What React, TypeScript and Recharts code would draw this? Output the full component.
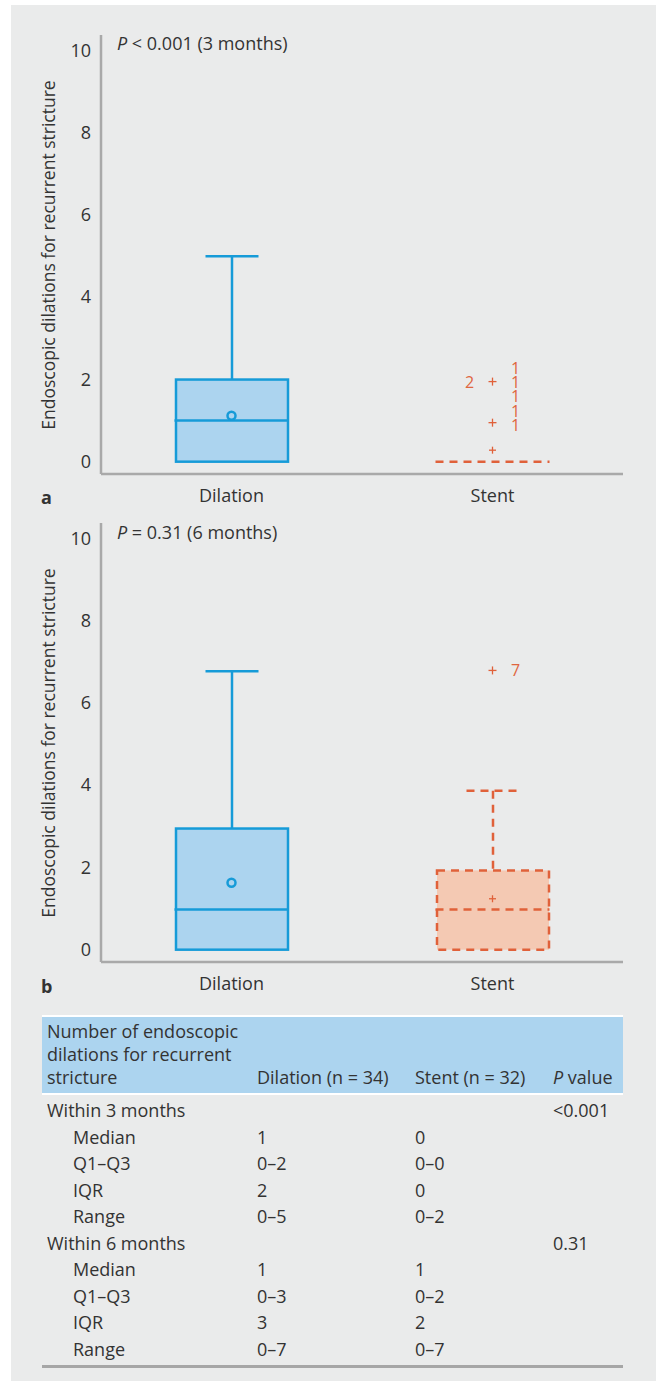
import { ComposedChart, Bar, Scatter, XAxis, YAxis } from 'recharts'

const GROUPS = ['Dilation', 'Stent']
const Y_TICKS = [0, 2, 4, 6, 8, 10]
const Y_TITLE = 'Endoscopic dilations for recurrent stricture'

// a: within 3 months
const Q1_3M = [0, 0]
const Q3_3M = [2, 0]
const MEDIAN_3M = [1, 0]
const MAX_3M = [5, 0]
const MEAN_3M = [1.12, 0.28]
const OUTLIERS_3M = [1.95, 0.95]
const COUNT_LEFT_3M = [{ v: 1.95, text: '2' }]
const COUNT_RIGHT_3M = [
  { v: 2.27, text: '1' },
  { v: 1.93, text: '1' },
  { v: 1.59, text: '1' },
  { v: 1.24, text: '1' },
  { v: 0.9, text: '1' },
]

// b: within 6 months
const Q1_6M = [0, 0]
const Q3_6M = [2.95, 1.93]
const MEDIAN_6M = [0.98, 0.98]
const MAX_6M = [6.78, 3.87]
const MEAN_6M = [1.63, 1.24]
const OUTLIERS_6M = [6.8]
const COUNT_LEFT_6M: { v: number; text: string }[] = []
const COUNT_RIGHT_6M = [{ v: 6.8, text: '7' }]

// table
const ROW_LABELS = [
  'Within 3 months', 'Median', 'Q1–Q3', 'IQR', 'Range',
  'Within 6 months', 'Median', 'Q1–Q3', 'IQR', 'Range',
]
const ROW_SUB = [false, true, true, true, true, false, true, true, true, true]
const DILATION_COL = ['', '1', '0–2', '2', '0–5', '', '1', '0–3', '3', '0–7']
const STENT_COL = ['', '0', '0–0', '0', '0–2', '', '1', '0–2', '2', '0–7']
const P_COL = ['<0.001', '', '', '', '', '0.31', '', '', '', '']

const FONT = '"Open Sans", sans-serif'
const TEXT = '#333'
const AXIS = '#a9a9a9'
const BOX_W = 112
const CAP_W = 53

const STYLE: Record<string, { stroke: string; fill: string; dash?: string }> = {
  Dilation: { stroke: '#169bd8', fill: '#acd4ef' },
  Stent: { stroke: '#e0613a', fill: '#f4c9b3', dash: '8 6' },
}

const BoxShape = (p: any) => {
  const { x, y, width, height, payload } = p
  if (!height || height < 1) return null
  const s = STYLE[payload.group]
  return (
    <rect x={x} y={y} width={width} height={height} fill={s.fill}
      stroke={s.stroke} strokeWidth={2.5} strokeDasharray={s.dash} />
  )
}

const WhiskerShape = (p: any) => {
  const { x, y, width, height, payload } = p
  if (!height || height < 1) return null
  const s = STYLE[payload.group]
  const cx = x + width / 2
  return (
    <g stroke={s.stroke} strokeWidth={2.5} strokeDasharray={s.dash}>
      <line x1={cx} x2={cx} y1={y} y2={y + height} />
      <line x1={cx - CAP_W / 2} x2={cx + CAP_W / 2} y1={y} y2={y} />
    </g>
  )
}

const MedianShape = (p: any) => {
  const { cx, cy, payload } = p
  const s = STYLE[payload.group]
  return (
    <line x1={cx - (BOX_W + 2) / 2} x2={cx + (BOX_W + 2) / 2} y1={cy} y2={cy}
      stroke={s.stroke} strokeWidth={2.5} strokeDasharray={s.dash} />
  )
}

const Plus = ({ cx, cy, size, color }: any) => (
  <g stroke={color} strokeWidth={1.3}>
    <line x1={cx - size / 2} x2={cx + size / 2} y1={cy} y2={cy} />
    <line x1={cx} x2={cx} y1={cy - size / 2} y2={cy + size / 2} />
  </g>
)

const MeanShape = (p: any) => {
  const { cx, cy, payload } = p
  const s = STYLE[payload.group]
  if (payload.group === 'Dilation') {
    return <circle cx={cx} cy={cy} r={4} fill={s.fill} stroke={s.stroke} strokeWidth={2.5} />
  }
  return <Plus cx={cx} cy={cy} size={7} color={s.stroke} />
}

const OutlierShape = (p: any) => <Plus cx={p.cx} cy={p.cy} size={8} color={STYLE.Stent.stroke} />

const countShape = (dx: number) => (p: any) => (
  <text x={p.cx + dx} y={p.cy} textAnchor="middle" dominantBaseline="central"
    fill="#e0663f" fontSize={16} fontFamily={FONT}>
    {p.payload.text}
  </text>
)
const CountLeft = countShape(-23)
const CountRight = countShape(23)

const YTick = (p: any) => (
  <text x={p.x - 2} y={p.y + 6} textAnchor="end"
    fontSize={18} fill={TEXT} fontFamily={FONT}>
    {String(p.payload.value)}
  </text>
)

const XTick = (p: any) => (
  <text x={p.x} y={p.y + 20} textAnchor="middle"
    fontSize={18} fill={TEXT} fontFamily={FONT}>
    {p.payload.value}
  </text>
)

interface PanelProps {
  q1: number[]
  q3: number[]
  median: number[]
  max: number[]
  mean: number[]
  outliers: number[]
  countLeft: { v: number; text: string }[]
  countRight: { v: number; text: string }[]
}

function BoxPanel({ q1, q3, median, max, mean, outliers, countLeft, countRight }: PanelProps) {
  const data = GROUPS.map((group, i) => ({
    group,
    box: [q1[i], q3[i]],
    whisker: [q3[i], max[i]],
    median: median[i],
    mean: mean[i],
  }))
  const outlierData = outliers.map((v) => ({ group: 'Stent', v }))
  const leftData = countLeft.map((c) => ({ group: 'Stent', ...c }))
  const rightData = countRight.map((c) => ({ group: 'Stent', ...c }))

  return (
    <ComposedChart width={656} height={520} data={data}
      margin={{ top: 35, right: 33, left: 41, bottom: 6 }}>
      <XAxis dataKey="group" type="category" allowDuplicatedCategory={false}
        height={40} tickLine={false} tick={XTick}
        axisLine={{ stroke: AXIS, strokeWidth: 2.5 }} />
      <XAxis xAxisId="w" dataKey="group" type="category" allowDuplicatedCategory={false} hide />
      <YAxis type="number" domain={[-0.3, 10.39]} allowDataOverflow ticks={Y_TICKS}
        width={60} tickLine={false} tick={YTick}
        axisLine={{ stroke: AXIS, strokeWidth: 2.5 }} />
      <Bar xAxisId="w" dataKey="whisker" barSize={BOX_W} shape={WhiskerShape} isAnimationActive={false} />
      <Bar dataKey="box" barSize={BOX_W} shape={BoxShape} isAnimationActive={false} />
      <Scatter dataKey="median" shape={MedianShape} isAnimationActive={false} />
      <Scatter dataKey="mean" shape={MeanShape} isAnimationActive={false} />
      <Scatter data={outlierData} dataKey="v" shape={OutlierShape} isAnimationActive={false} />
      <Scatter data={leftData} dataKey="v" shape={CountLeft} isAnimationActive={false} />
      <Scatter data={rightData} dataKey="v" shape={CountRight} isAnimationActive={false} />
    </ComposedChart>
  )
}

const abs = (left: number, top: number, extra: any = {}) => ({
  position: 'absolute' as const, left, top, ...extra,
})

const txt = { fontFamily: FONT, fontSize: 18, color: TEXT, whiteSpace: 'nowrap' as const }

const yTitleStyle = (centerY: number) => abs(48 - 200, centerY - 12, {
  ...txt, fontSize: 17.5, width: 400, height: 24, lineHeight: '24px',
  textAlign: 'center', transform: 'rotate(-90deg)',
})

export default function App() {
  const rowTop = (i: number) => 1110 + i * 26.55 - 13
  return (
    <div style={{ position: 'absolute', left: 0, top: 0, width: 656, height: 1381, background: '#fff', overflow: 'hidden' }}>
      <div style={abs(11, 5, { width: 645, height: 1376, background: '#eaebeb' })} />

      <div style={abs(0, 0)}>
        <BoxPanel q1={Q1_3M} q3={Q3_3M} median={MEDIAN_3M} max={MAX_3M} mean={MEAN_3M}
          outliers={OUTLIERS_3M} countLeft={COUNT_LEFT_3M} countRight={COUNT_RIGHT_3M} />
      </div>
      <div style={yTitleStyle(255)}>{Y_TITLE}</div>
      <div style={abs(117, 32, { ...txt, lineHeight: '23px' })}>
        <i>P</i> &lt; 0.001 (3 months)
      </div>
      <div style={abs(41, 486, { ...txt, fontWeight: 700, lineHeight: '23px' })}>a</div>

      <div style={abs(0, 488)}>
        <BoxPanel q1={Q1_6M} q3={Q3_6M} median={MEDIAN_6M} max={MAX_6M} mean={MEAN_6M}
          outliers={OUTLIERS_6M} countLeft={COUNT_LEFT_6M} countRight={COUNT_RIGHT_6M} />
      </div>
      <div style={yTitleStyle(743)}>{Y_TITLE}</div>
      <div style={abs(117, 521, { ...txt, lineHeight: '23px' })}>
        <i>P</i> = 0.31 (6 months)
      </div>
      <div style={abs(41, 975, { ...txt, fontWeight: 700, lineHeight: '23px' })}>b</div>

      {/* table */}
      <div style={abs(42, 1015, { width: 581, height: 80, background: '#fff' })} />
      <div style={abs(42, 1017, { width: 581, height: 76, background: '#acd4ef' })} />
      <div style={abs(47, 1020, { ...txt, lineHeight: '23px' })}>
        Number of endoscopic<br />dilations for recurrent<br />stricture
      </div>
      <div style={abs(257, 1066, { ...txt, lineHeight: '23px' })}>Dilation (n = 34)</div>
      <div style={abs(415, 1066, { ...txt, lineHeight: '23px' })}>Stent (n = 32)</div>
      <div style={abs(553, 1066, { ...txt, lineHeight: '23px' })}><i>P</i> value</div>

      {ROW_LABELS.map((label, i) => (
        <div key={i}>
          <div style={abs(ROW_SUB[i] ? 73 : 47, rowTop(i), { ...txt, lineHeight: '26px' })}>{label}</div>
          <div style={abs(257, rowTop(i), { ...txt, lineHeight: '26px' })}>{DILATION_COL[i]}</div>
          <div style={abs(415, rowTop(i), { ...txt, lineHeight: '26px' })}>{STENT_COL[i]}</div>
          <div style={abs(553, rowTop(i), { ...txt, lineHeight: '26px' })}>{P_COL[i]}</div>
        </div>
      ))}
      <div style={abs(42, 1365, { width: 581, height: 3, background: '#a6a6a6' })} />
    </div>
  )
}
